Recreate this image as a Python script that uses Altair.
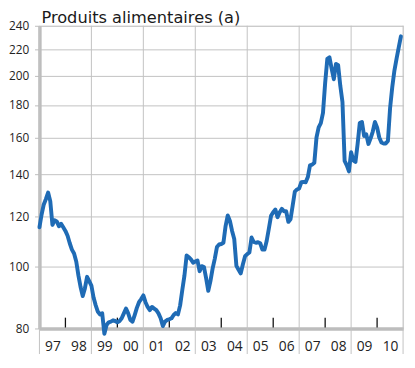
import altair as alt
import pandas as pd

title_text = "Produits alimentaires (a)"

years = list(range(1997, 2011))
v1997 = [115.5, 121, 125.5, 128, 131, 127, 116.5, 118.5, 118, 116, 117, 115.5]
v1998 = [114, 112, 109, 106.5, 105, 102, 97, 93, 90, 92.5, 96.5, 95]
v1999 = [93.5, 89.5, 87, 85, 84.2, 84.5, 78.5, 81, 81.8, 82, 82.4, 82.2]
v2000 = [81.8, 82.2, 83, 84.5, 86, 84.5, 82.5, 82, 84, 86.2, 88, 89]
v2001 = [90.2, 88, 86.5, 85.5, 86.5, 86, 85.5, 84.5, 83, 80.7, 82, 82.5]
v2002 = [82.7, 83, 84, 84.6, 84.2, 87, 92, 97, 104.3, 103.6, 102.8, 101.6]
v2003 = [102, 102.4, 98.5, 100.3, 100, 96, 91.7, 95, 99.4, 103, 107.5, 108.5]
v2004 = [108.7, 109.2, 116, 120.6, 118.2, 114, 110.7, 100.4, 99, 97.7, 101, 104]
v2005 = [104.8, 105.4, 111.3, 109.5, 109.2, 109.4, 109, 106.5, 106.5, 110, 115, 120.4]
v2006 = [122, 123.2, 119.8, 122, 123.5, 122.4, 122.4, 117.8, 118.9, 125, 131.5, 132.5]
v2007 = [133, 136, 136.2, 136, 138.6, 144.6, 145, 146, 160, 166, 168.6, 175]
v2008 = [195, 212.8, 214, 205.4, 197.7, 209, 208, 193, 182, 147, 144.6, 141.5]
v2009 = [151.7, 147.2, 146.4, 156.3, 168.6, 169.3, 160.9, 161.8, 156.3, 159.5, 163.5, 169.3]
v2010 = [166, 160, 157.1, 156.6, 156.6, 158, 178, 192, 204, 213, 222, 231]

series = [v1997, v1998, v1999, v2000, v2001, v2002, v2003, v2004, v2005,
          v2006, v2007, v2008, v2009, v2010]

y_ticks = [80, 100, 120, 140, 160, 180, 200, 220, 240]
grid_years = [1997, 1999, 2001, 2003, 2005, 2007, 2009, 2011]
tick_years = [1998, 2000, 2002, 2004, 2006, 2008, 2010]
label_years = [y + 0.5 for y in years]

rows = []
for yr, vals in zip(years, series):
    for i, v in enumerate(vals):
        rows.append({"t": yr + i / 12.0, "v": v})
df = pd.DataFrame(rows)

GRID = "#c2c2c2"
AXIS = "#bdbdbd"
BLUE = "#1f6bb5"
FONT = "Open Sans"

x_scale = alt.Scale(domain=[1997, 2011], nice=False, zero=False)
y_scale = alt.Scale(type="log", domain=[80, 240], nice=False)

x_axis = alt.Axis(
    values=label_years,
    labelExpr="substring(toString(floor(datum.value)), 2)",
    grid=False,
    ticks=False,
    domain=True,
    domainColor=AXIS,
    domainWidth=3.5,
    labelFontSize=14,
    labelFont=FONT,
    labelColor="#222222",
    labelPadding=11,
    labelFlush=False,
    labelOverlap=False,
    title=None,
)

grid_v = alt.Chart(pd.DataFrame({"g": grid_years})).mark_rule(
    color=GRID, strokeWidth=1
).encode(
    x=alt.X("g:Q", scale=x_scale, axis=x_axis),
    y=alt.value(0),
    y2=alt.value(334),
)

ticks = alt.Chart(pd.DataFrame({"k": tick_years})).mark_rule(
    color="#111111", strokeWidth=1.3
).encode(
    x=alt.X("k:Q", scale=x_scale, axis=x_axis),
    y=alt.value(297),
    y2=alt.value(307),
)

line = alt.Chart(df).mark_line(
    color=BLUE, strokeWidth=4, strokeJoin="round", strokeCap="round", clip=False
).encode(
    x=alt.X("t:Q", scale=x_scale, axis=x_axis),
    y=alt.Y(
        "v:Q",
        scale=y_scale,
        axis=alt.Axis(
            values=y_ticks,
            grid=True,
            gridColor=GRID,
            gridWidth=1,
            tickColor=AXIS,
            tickSize=5,
            tickWidth=1,
            domain=True,
            domainColor=AXIS,
            domainWidth=3.5,
            labelFontSize=12,
            labelFont=FONT,
            labelColor="#222222",
            labelPadding=6,
            labelFlush=False,
            labelOverlap=False,
            title=None,
        ),
    ),
)

title = alt.Chart(pd.DataFrame({"txt": [title_text]})).mark_text(
    align="left", baseline="alphabetic", fontSize=16.5, font="DejaVu Sans",
    color="#1a1a1a"
).encode(
    text="txt:N",
    x=alt.value(2),
    y=alt.value(-3),
)

chart = alt.layer(grid_v, ticks, line, title).properties(
    width=370,
    height=308,
    padding={"left": 32, "top": 15, "right": 4, "bottom": 30},
    autosize=alt.AutoSizeParams(type="none"),
).configure_view(stroke=None).configure(background="white")

chart.save("out.html", embed_options={"renderer": "svg", "actions": False})
